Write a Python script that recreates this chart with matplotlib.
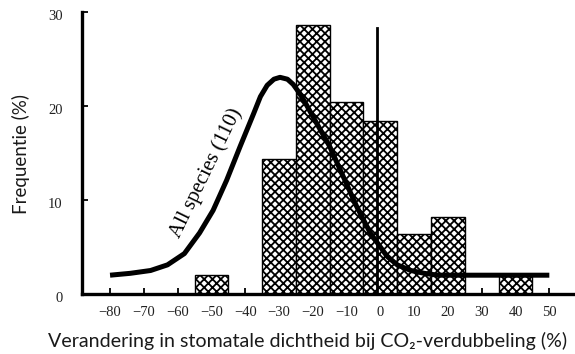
import matplotlib
matplotlib.use("Agg")
import matplotlib.pyplot as plt
from matplotlib.transforms import ScaledTranslation

# histogram klassen (midden, breedte 10) en frequentie in %
klassen = [-50, -30, -20, -10, 0, 10, 20, 40]
frequentie = [2.0, 14.4, 28.6, 20.4, 18.4, 6.4, 8.2, 1.9]

curve_x = [-80, -74, -68, -63, -58, -53.5, -49.5, -45.5, -41.5, -37.5, -35.5,
           -33.5, -31.5, -29.7, -27.5, -25.8, -24, -22, -20, -15, -11, -7, -3,
           2, 5, 9, 13, 17, 50]
curve_y = [2.0, 2.2, 2.5, 3.1, 4.3, 6.5, 8.9, 12.1, 15.7, 19.2, 21.0,
           22.2, 22.85, 23.05, 22.85, 22.3, 21.4, 20.2, 18.9, 15.7, 12.5, 9.3, 6.5,
           4.0, 3.1, 2.5, 2.2, 2.0, 2.0]

xticks = list(range(-80, 51, 10))
yticks = [0, 10, 20, 30]
nullijn_x = -1      # verticale lijn bij geen verandering
nullijn_top = 28.3

plt.rcParams['hatch.linewidth'] = 1.3
plt.rcParams['hatch.color'] = 'black'

fig = plt.figure(figsize=(5.75, 3.54), dpi=100)
ax = fig.add_axes([82 / 575, 60 / 354, 493 / 575, 282 / 354])

ax.bar(klassen, frequentie, width=10, color='white', edgecolor='black',
       linewidth=1.0, hatch='xxxx', zorder=2)
ax.plot([nullijn_x, nullijn_x], [0, nullijn_top], color='black', lw=2.0, zorder=3)
ax.plot(curve_x, curve_y, color='black', lw=3.6, solid_capstyle='butt',
        solid_joinstyle='round', zorder=4)

ax.text(-51.6, 12.9, "All species (110)", rotation=64, ha='center', va='center',
        family='Liberation Serif', fontsize=15, zorder=5)

ax.set_xlim(-88.3, 57.6)
ax.set_ylim(0, 30)
ax.set_xticks(xticks)
ax.set_yticks(yticks)

for side in ['top', 'right']:
    ax.spines[side].set_visible(False)
ax.spines['left'].set_linewidth(2.4)
ax.spines['bottom'].set_linewidth(2.4)
ax.spines['left'].set_bounds(0, 30)

ax.tick_params(axis='both', direction='in', width=1.3, length=4, color='black')
ax.tick_params(axis='y', pad=14)
ax.tick_params(axis='x', pad=8.5)
for lbl in ax.get_xticklabels() + ax.get_yticklabels():
    lbl.set_family('Liberation Serif')
    lbl.set_fontsize(10.5)
    lbl.set_color('#222222')
# getallen op de y-as staan iets lager dan de streepjes
for lbl in ax.get_yticklabels():
    lbl.set_transform(lbl.get_transform() + ScaledTranslation(0, -3 / 100, fig.dpi_scale_trans))

fig.text(21 / 575, 1 - 154 / 354, "Frequentie (%)", rotation=90, ha='center', va='center',
         family=['Lato', 'DejaVu Sans'], fontsize=13.5, color='#1a1a1a')
fig.text(308 / 575, 13 / 354, "Verandering in stomatale dichtheid bij CO₂-verdubbeling (%)",
         ha='center', va='center', family=['Lato', 'DejaVu Sans'], fontsize=14.1, color='#1a1a1a')

fig.savefig("out.png", dpi=100)
